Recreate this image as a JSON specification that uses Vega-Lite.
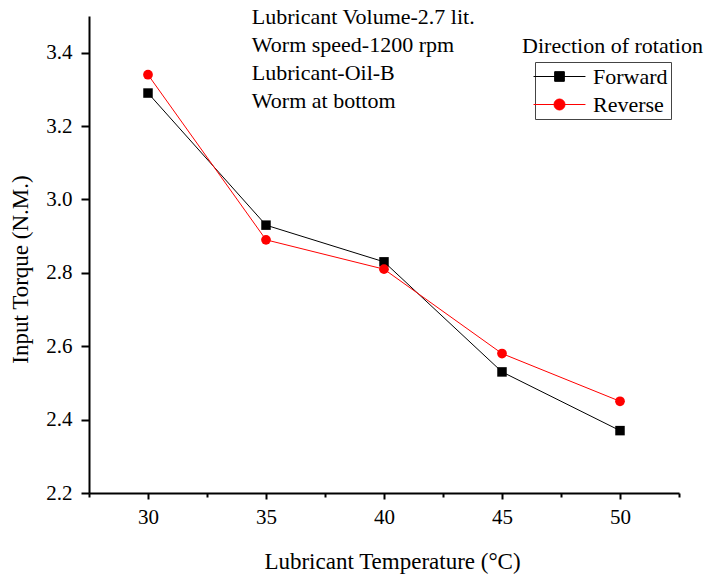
{
  "$schema": "https://vega.github.io/schema/vega-lite/v6.json",
  "width": 590,
  "height": 477,
  "autosize": "none",
  "padding": {"left": 89, "top": 16, "right": 29, "bottom": 82},
  "background": "white",
  "config": {
    "view": {"stroke": null},
    "font": "Liberation Serif",
    "axis": {
      "labelFont": "Liberation Serif",
      "titleFont": "Liberation Serif",
      "labelFontSize": 21,
      "titleFontSize": 23,
      "titleFontWeight": "normal",
      "labelColor": "black",
      "titleColor": "black",
      "domainColor": "black",
      "tickColor": "black",
      "domainWidth": 2,
      "tickWidth": 2,
      "grid": false,
      "labelFlush": false,
      "labelOverlap": false
    },
    "legend": {
      "labelFont": "Liberation Serif",
      "labelFontSize": 22,
      "labelColor": "black"
    }
  },
  "datasets": {
    "torque": [
      {"temp": 30, "torque": 3.29, "direction": "Forward"},
      {"temp": 35, "torque": 2.93, "direction": "Forward"},
      {"temp": 40, "torque": 2.83, "direction": "Forward"},
      {"temp": 45, "torque": 2.53, "direction": "Forward"},
      {"temp": 50, "torque": 2.37, "direction": "Forward"},
      {"temp": 30, "torque": 3.34, "direction": "Reverse"},
      {"temp": 35, "torque": 2.89, "direction": "Reverse"},
      {"temp": 40, "torque": 2.81, "direction": "Reverse"},
      {"temp": 45, "torque": 2.58, "direction": "Reverse"},
      {"temp": 50, "torque": 2.45, "direction": "Reverse"}
    ],
    "notes": [
      {"x": 34.4, "y": 3.497, "label": "Lubricant Volume-2.7 lit."},
      {"x": 34.4, "y": 3.421, "label": "Worm speed-1200 rpm"},
      {"x": 34.4, "y": 3.344, "label": "Lubricant-Oil-B"},
      {"x": 34.4, "y": 3.268, "label": "Worm at bottom"}
    ],
    "legtitle": [
      {"x": 45.85, "y": 3.418, "label": "Direction of rotation"}
    ]
  },
  "layer": [
    {
      "data": {"name": "torque"},
      "mark": {"type": "line", "strokeWidth": 1},
      "encoding": {
        "x": {
          "field": "temp", "type": "quantitative",
          "scale": {"domain": [27.5, 52.5], "nice": false, "zero": false},
          "axis": {
            "title": "Lubricant Temperature (°C)",
            "values": [27.5, 30, 32.5, 35, 37.5, 40, 42.5, 45, 47.5, 50, 52.5],
            "labelExpr": "datum.value % 5 === 0 ? datum.label : ''",
            "labelFont": "Liberation Serif",
            "labelFontSize": 21,
            "tickSize": {"condition": {"test": "datum.value % 5 === 0", "value": 6}, "value": 4},
            "labelPadding": 7,
            "titleX": 303,
            "titleY": 68,
            "titleBaseline": "middle",
            "titleAlign": "center"
          }
        },
        "y": {
          "field": "torque", "type": "quantitative",
          "scale": {"domain": [2.2, 3.5], "nice": false, "zero": false},
          "axis": {
            "title": "Input Torque (N.M.)",
            "values": [2.2, 2.3, 2.4, 2.5, 2.6, 2.7, 2.8, 2.9, 3.0, 3.1, 3.2, 3.3, 3.4, 3.5],
            "labelExpr": "round(datum.value * 10) % 2 === 0 && datum.value < 3.45 ? format(datum.value, '.1f') : ''",
            "labelFont": "Liberation Serif",
            "labelFontSize": 21,
            "tickSize": {"condition": {"test": "round(datum.value * 10) % 2 === 0", "value": 8}, "value": 4},
            "labelPadding": 9,
            "titleX": -69,
            "titleY": 253,
            "titleAngle": -90,
            "titleBaseline": "middle",
            "titleAlign": "center"
          }
        },
        "color": {
          "field": "direction", "type": "nominal",
          "scale": {"domain": ["Forward", "Reverse"], "range": ["black", "red"]},
          "legend": {
            "title": null,
            "orient": "none",
            "legendX": 446,
            "legendY": 46,
            "padding": 3,
            "strokeColor": "#444444",
            "labelFont": "Liberation Serif",
            "labelFontSize": 22,
            "labelColor": "black",
            "symbolSize": 484,
            "symbolStrokeWidth": 1,
            "symbolOffset": 10,
            "labelOffset": 22,
            "rowPadding": 5,
            "encode": {
              "symbols": {
                "update": {
                  "shape": {"signal": "datum.value === 'Forward' ? 'M-2.36,0H2.36M-0.44,-0.44H0.44V0.44H-0.44Z' : 'M-2.36,0H2.36M-0.5,0A0.5,0.5,0,1,1,0.5,0A0.5,0.5,0,1,1,-0.5,0Z'"},
                  "fill": {"signal": "datum.value === 'Forward' ? 'black' : 'red'"},
                  "stroke": {"signal": "datum.value === 'Forward' ? 'black' : '#ff7070'"},
                  "strokeWidth": {"value": 1}
                }
              }
            }
          }
        },
        "order": {"field": "temp"}
      }
    },
    {
      "data": {"name": "torque"},
      "transform": [{"filter": "datum.direction === 'Forward'"}],
      "mark": {"type": "point", "shape": "square", "filled": true, "opacity": 1, "size": 90},
      "encoding": {
        "x": {"field": "temp", "type": "quantitative"},
        "y": {"field": "torque", "type": "quantitative"},
        "color": {"field": "direction", "type": "nominal"}
      }
    },
    {
      "data": {"name": "torque"},
      "transform": [{"filter": "datum.direction === 'Reverse'"}],
      "mark": {"type": "point", "shape": "circle", "filled": true, "opacity": 1, "size": 95},
      "encoding": {
        "x": {"field": "temp", "type": "quantitative"},
        "y": {"field": "torque", "type": "quantitative"},
        "color": {"field": "direction", "type": "nominal"}
      }
    },
    {
      "data": {"name": "notes"},
      "mark": {"type": "text", "align": "left", "baseline": "middle", "font": "Liberation Serif", "fontSize": 22, "color": "black"},
      "encoding": {
        "x": {"field": "x", "type": "quantitative"},
        "y": {"field": "y", "type": "quantitative"},
        "text": {"field": "label"}
      }
    },
    {
      "data": {"name": "legtitle"},
      "mark": {"type": "text", "align": "left", "baseline": "middle", "font": "Liberation Serif", "fontSize": 22, "color": "black"},
      "encoding": {
        "x": {"field": "x", "type": "quantitative"},
        "y": {"field": "y", "type": "quantitative"},
        "text": {"field": "label"}
      }
    }
  ]
}
